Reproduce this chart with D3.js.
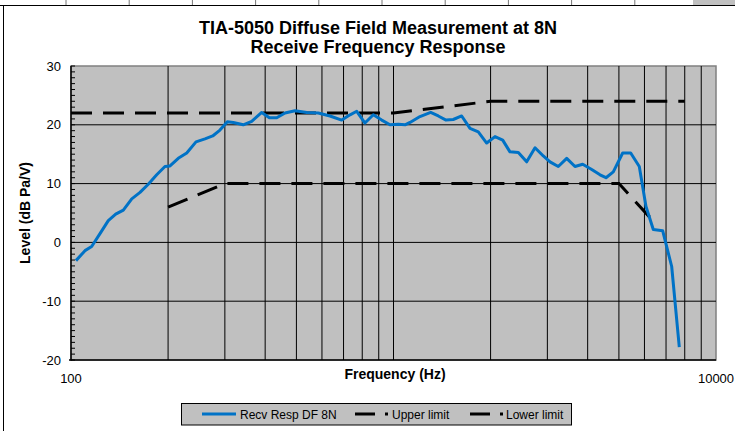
<!DOCTYPE html>
<html>
<head>
<meta charset="utf-8">
<script src="https://cdn.jsdelivr.net/npm/d3@7"></script>
<style>
  html, body { margin: 0; padding: 0; background: #fff; }
  svg { display: block; font-family: "Liberation Sans", Arial, sans-serif; }
</style>
</head>
<body>
<svg id="chart" width="735" height="431"></svg>
<script>
// ---- data ----
const titleLines = ["TIA-5050 Diffuse Field Measurement at 8N", "Receive Frequency Response"];
const xTitle = "Frequency (Hz)";
const yTitle = "Level (dB Pa/V)";
const xTickLabels = [100, 10000];
const yTickValues = [-20, -10, 0, 10, 20, 30];

const respFreq = [103.6, 110.5, 115.9, 123.0, 130.5, 137.6, 145.3, 154.3, 163.7, 173.6, 184.4, 195.6, 202.8,
  215.1, 228.5, 244.1, 260.3, 275.0, 289.7, 305.3, 318.6, 342.1, 363.3, 390.3, 412.1, 434.5, 460.9, 495.0,
  538.2, 584.6, 635.5, 690.9, 733.3, 769.2, 815.7, 865.6, 919.3, 975.2, 1035, 1086, 1125, 1208, 1304, 1377,
  1455, 1532, 1627, 1727, 1832, 1945, 2064, 2181, 2297, 2438, 2588, 2747, 2914, 3057, 3243, 3444, 3654,
  3861, 4118, 4369, 4559, 4803, 5136, 5439, 5783, 6066, 6391, 6833, 7288, 7694];
const respLevel = [-3.1, -1.4, -0.7, 1.5, 3.7, 4.8, 5.5, 7.4, 8.5, 9.9, 11.5, 12.9, 13.0,
  14.3, 15.2, 17.1, 17.6, 18.1, 19.1, 20.5, 20.4, 20.0, 20.6, 22.1, 21.2, 21.2, 22.0, 22.4,
  22.1, 22.0, 21.5, 20.8, 21.7, 22.3, 20.3, 21.7, 20.8, 20.0, 20.1, 20.0, 20.4, 21.4, 22.1, 21.5,
  20.8, 20.9, 21.5, 19.4, 18.8, 16.9, 18.0, 17.4, 15.4, 15.3, 13.7, 16.1, 14.7, 13.7, 12.9, 14.3, 12.9,
  13.3, 12.4, 11.5, 11.0, 12.0, 15.2, 15.2, 12.9, 6.1, 2.2, 2.0, -4.1, -17.8];

const upperFreq = [100, 1000, 2000, 8000];
const upperLevel = [22, 22, 24, 24];
const lowerFreq = [200, 300, 5000, 6300];
const lowerLevel = [6, 10, 10, 4];

const legendLabels = ["Recv Resp DF 8N", "Upper limit", "Lower limit"];

// ---- drawing ----
const svg = d3.select("#chart");
const plot = { left: 71, right: 716, top: 66, bottom: 360 };
const x = d3.scaleLog().domain([100, 10000]).range([plot.left, plot.right]);
const y = d3.scaleLinear().domain([-20, 30]).range([plot.bottom, plot.top]);

// page furniture (spreadsheet edge)
svg.append("line").attr("x1", 0).attr("x2", 735).attr("y1", 5.5).attr("y2", 5.5)
  .attr("stroke", "#000").attr("stroke-width", 1);
d3.range(66, 700, 63.2).forEach(px => {
  svg.append("line").attr("x1", px).attr("x2", px).attr("y1", 0).attr("y2", 5)
    .attr("stroke", "#777").attr("stroke-width", 1);
});
svg.append("rect").attr("x", 693).attr("y", 0).attr("width", 42).attr("height", 5).attr("fill", "#c0c0c0");
svg.append("line").attr("x1", 3.5).attr("x2", 3.5).attr("y1", 5.5).attr("y2", 431)
  .attr("stroke", "#000").attr("stroke-width", 1);

// title
svg.append("g").selectAll("text").data(titleLines).join("text")
  .attr("x", 378).attr("y", (d, i) => 34 + i * 18.5)
  .attr("text-anchor", "middle").attr("font-weight", "bold").attr("font-size", 18)
  .attr("fill", "#000").text(d => d);

// plot background
svg.append("rect").attr("x", plot.left).attr("y", plot.top)
  .attr("width", plot.right - plot.left).attr("height", plot.bottom - plot.top)
  .attr("fill", "#c0c0c0").attr("stroke", "#808080").attr("stroke-width", 1.5);

// grid lines
const gridX = x.ticks().filter(v => v > 100 && v < 10000);
svg.append("g").selectAll("line").data(gridX).join("line")
  .attr("x1", d => x(d)).attr("x2", d => x(d)).attr("y1", plot.top).attr("y2", plot.bottom)
  .attr("stroke", "#000").attr("stroke-width", 1);
const gridY = yTickValues.filter(v => v > -20 && v < 30);
svg.append("g").selectAll("line").data(gridY).join("line")
  .attr("x1", plot.left).attr("x2", plot.right).attr("y1", d => y(d)).attr("y2", d => y(d))
  .attr("stroke", "#000").attr("stroke-width", 1);

// axes lines
svg.append("line").attr("x1", plot.left).attr("x2", plot.left).attr("y1", plot.top).attr("y2", plot.bottom + 0.5)
  .attr("stroke", "#000").attr("stroke-width", 1.5);
svg.append("line").attr("x1", plot.left - 2).attr("x2", plot.right).attr("y1", plot.bottom).attr("y2", plot.bottom)
  .attr("stroke", "#000").attr("stroke-width", 1.5);

// y minor ticks (inside)
const minorY = d3.range(-20, 31, 1);
svg.append("g").selectAll("line").data(minorY).join("line")
  .attr("x1", plot.left).attr("x2", plot.left + 4).attr("y1", d => y(d)).attr("y2", d => y(d))
  .attr("stroke", "#000").attr("stroke-width", 1);

// y tick labels
svg.append("g").selectAll("text").data(yTickValues).join("text")
  .attr("x", 61).attr("y", d => y(d) + 4.5).attr("text-anchor", "end")
  .attr("font-size", 13).attr("fill", "#000").text(d => d);

// x tick labels
svg.append("g").selectAll("text").data(xTickLabels).join("text")
  .attr("x", d => x(d)).attr("y", 383).attr("text-anchor", "middle")
  .attr("font-size", 13).attr("fill", "#000").text(d => d);

// axis titles
svg.append("text").attr("x", 395).attr("y", 379).attr("text-anchor", "middle")
  .attr("font-weight", "bold").attr("font-size", 14).text(xTitle);
svg.append("text").attr("transform", `translate(30,${(plot.top + plot.bottom) / 2}) rotate(-90)`)
  .attr("text-anchor", "middle").attr("font-weight", "bold").attr("font-size", 14).text(yTitle);

// series
const line = d3.line().x(d => x(d[0])).y(d => y(d[1]));
const upper = upperFreq.map((f, i) => [f, upperLevel[i]]);
const lower = lowerFreq.map((f, i) => [f, lowerLevel[i]]);
const resp = respFreq.map((f, i) => [f, respLevel[i]]);

svg.append("path").datum(upper).attr("d", line).attr("fill", "none")
  .attr("stroke", "#000").attr("stroke-width", 3).attr("stroke-dasharray", "21,11");
svg.append("path").datum(lower).attr("d", line).attr("fill", "none")
  .attr("stroke", "#000").attr("stroke-width", 3).attr("stroke-dasharray", "21,11");
svg.append("path").datum(resp).attr("d", line).attr("fill", "none")
  .attr("stroke", "#0072c6").attr("stroke-width", 3).attr("stroke-linejoin", "round");

// legend
const lg = svg.append("g");
lg.append("rect").attr("x", 181.5).attr("y", 403.5).attr("width", 390).attr("height", 21.5)
  .attr("fill", "#c0c0c0").attr("stroke", "#000").attr("stroke-width", 1);
const legendItems = [
  { label: legendLabels[0], x0: 202, x1: 236, tx: 240, color: "#0072c6", dash: null },
  { label: legendLabels[1], x0: 355, x1: 388, tx: 392, color: "#000", dash: "20,10" },
  { label: legendLabels[2], x0: 470, x1: 503, tx: 506, color: "#000", dash: "20,10" }
];
legendItems.forEach(it => {
  lg.append("line").attr("x1", it.x0).attr("x2", it.x1).attr("y1", 414).attr("y2", 414)
    .attr("stroke", it.color).attr("stroke-width", 3).attr("stroke-dasharray", it.dash);
  lg.append("text").attr("x", it.tx).attr("y", 418.5).attr("font-size", 12).attr("fill", "#000").text(it.label);
});
</script>
</body>
</html>
